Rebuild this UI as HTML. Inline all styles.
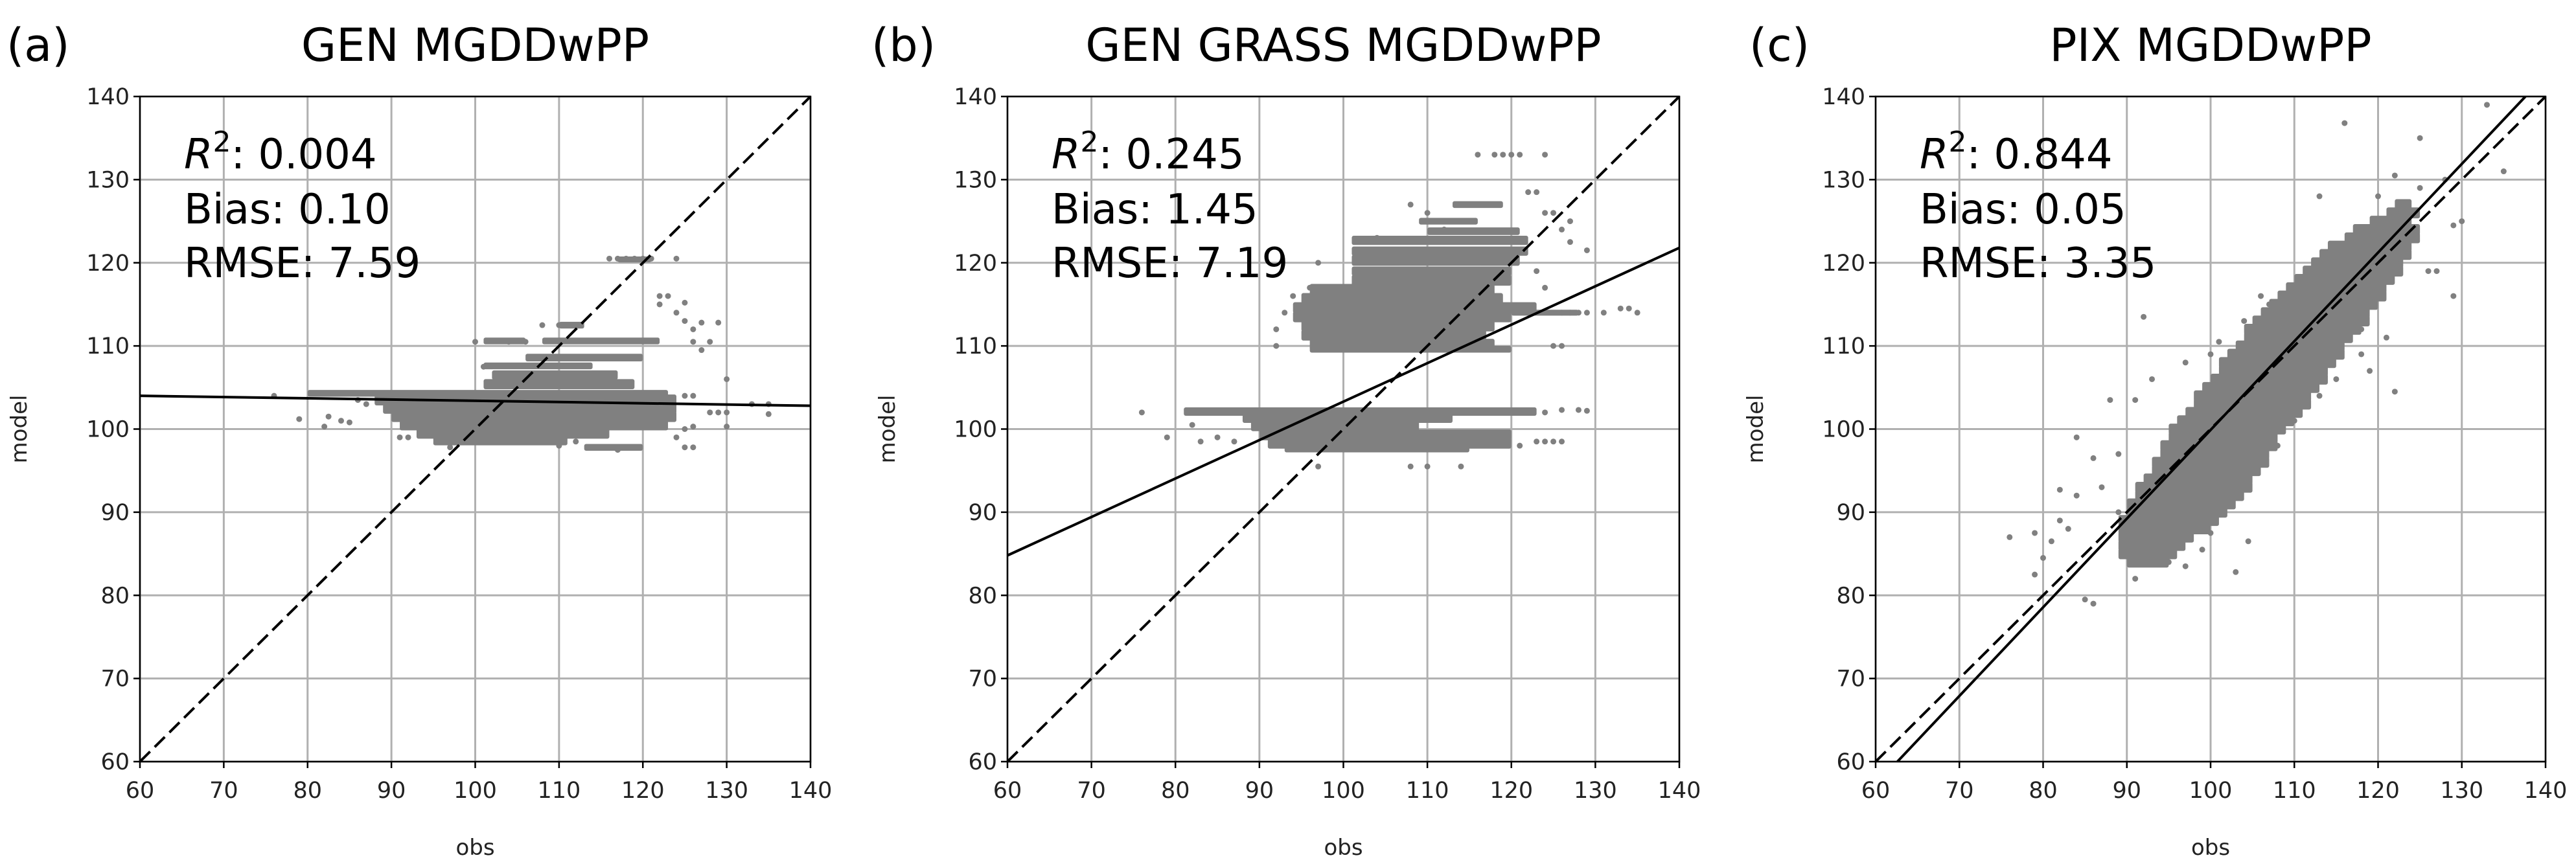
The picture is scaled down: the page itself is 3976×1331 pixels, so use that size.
<!DOCTYPE html>
<html><head><meta charset="utf-8"><style>
html,body{margin:0;padding:0;background:#fff;}
svg{display:block;font-family:"DejaVu Sans","Liberation Sans",sans-serif;}
</style></head><body>
<svg id="fig" width="3976" height="1331" viewBox="0 0 3976 1331" xmlns="http://www.w3.org/2000/svg"></svg>
<script>
// ---------- data ----------
const ticks = [60,70,80,90,100,110,120,130,140];
const panelLetters = ["(a)","(b)","(c)"];
const panelTitles = ["GEN MGDDwPP","GEN GRASS MGDDwPP","PIX MGDDwPP"];
const r2Values = ["0.004","0.245","0.844"];
const biasValues = ["0.10","1.45","0.05"];
const rmseValues = ["7.59","7.19","3.35"];
// regression line endpoints [x0,y0,x1,y1]
const fitA = [60,104.0,140,102.8];
const fitB = [60,84.8,140,121.8];
const fitC = [62.6,60,137.6,140];
// dense strips [y, xStart, xEnd, thickness]
const stripsA = [
 [104.3,80,123,0.5],[103.5,88,124,1],[102.5,89,124,1],[101.5,90,124,1],[100.5,91,123,1],
 [99.5,93,116,1],[98.6,95,111,0.8],[97.8,113,120,0.5],[105.4,101,119,0.9],[106.5,102,117,0.8],
 [107.6,101,114,0.5],[108.6,106,120,0.6],[110.6,101,106,0.5],[110.6,108,122,0.5],[112.5,110,113,0.5],[120.4,117,121,0.4]];
const stripsB = [
 [102.1,81,123,0.7],[101.4,88,113,1],[100.4,89,109,1],[99.3,90,120,1],[98.3,91,120,1],[97.6,93,115,0.5],
 [110.2,96,118,1],[111.3,95,117,1],[112.4,95,118,1],[113.5,94,120,1],[114.6,94,123,1],[115.7,95,119,1],
 [116.8,96,118,1],[117.9,101,120,1],[119.0,101,120,0.8],[120.3,101,121,1],[121.4,101,122,0.8],[122.7,101,122,0.8],
 [123.8,110,121,0.6],[125.0,109,116,0.5],[127.0,113,119,0.5],[109.6,96,120,0.5],[114.0,120,128,0.4]];
const stripsC = [
 [84,90,95,1],[85,89,96,1],[86,89,97,1],[87,89,98,1],[88,89,100,1],[89,89,101,1],[90,90,102,1],[91,90,103,1],
 [92,91,104,1],[93,91,105,1],[94,92,105,1],[95,93,106,1],[96,93,107,1],[97,94,107,1],[98,94,108,1],[99,95,108,1],
 [100,95,109,1],[101,96,110,1],[102,97,111,1],[103,98,112,1],[104,98,112,1],[105,99,113,1],[106,100,114,1],
 [107,101,114,1],[108,101,115,1],[109,102,116,1],[110,103,116,1],[111,104,117,1],[112,104,118,1],[113,105,119,1],
 [114,106,119,1],[115,107,120,1],[116,108,121,1],[117,109,121,1],[118,110,122,1],[119,111,123,1],[120,112,123,1],
 [121,113,124,1],[122,114,124,1],[123,116,125,1],[124,117,125,1],[125,119,124,1],[126,121,125,1],[127,122,124,1]];
// scattered points [x,y]
const pointsA = [[76,104],[79,101.2],[82,100.3],[82.5,101.5],[84,101],[85,100.8],[86,103.5],[87,103],[91,99],[92,99],[97,97.8],[100,110.5],[101,107.5],[104,110.5],[106,110.5],[108,112.5],[110,112.5],[112,112.5],[116,120.5],[117,120.5],[118,120.5],[119,120.5],[120,120.5],[121,120.5],[124,120.5],[122,116],[123,116],[122,115],[124,114],[125,115.2],[125,113],[126,112],[126,110.5],[127,112.8],[128,110.5],[129,112.8],[127,109.5],[130,106],[125,104],[126,104],[128,102],[129,102],[130,102],[130,100.3],[133,103],[135,101.8],[135,103],[126,97.8],[125,97.8],[124,99],[125,100],[126,100.3],[117,97.5],[112,98.5],[110,98]];
const pointsB = [[76,102],[79,99],[82,100.5],[83,98.5],[85,99],[87,98.5],[97,95.5],[108,95.5],[110,95.5],[114,95.5],[120,102],[122,102],[124,102],[126,102.3],[128,102.3],[129,102.2],[121,98],[123,98.5],[124,98.5],[125,98.5],[126,98.5],[92,110],[92,112],[93,114],[94,116],[96,117],[97,120],[104,123],[108,127],[110,126],[112,124],[116,133],[118,133],[119,133],[120,133],[121,133],[124,133],[122,128.5],[123,128.5],[124,126],[125,126],[126,124],[127,125],[127,122.5],[129,121.5],[126,114],[127,114],[128,114],[129,114],[131,114],[133,114.5],[134,114.5],[135,114],[125,110],[126,110],[123,119],[124,117]];
const pointsC = [[76,87],[79,87.5],[79,82.5],[80,84.5],[81,86.5],[82,89],[82,92.7],[83,88],[84,99],[85,79.5],[86,79],[84,92],[86,96.5],[88,103.5],[89,97],[92,113.5],[91,82],[92,84],[95,84],[97,83.5],[99,85.5],[100,87.5],[103,82.8],[104.5,86.5],[97,108],[101,110.5],[113,128],[116,136.8],[125,135],[133,139],[135,131],[130,125],[129,124.5],[129,116],[127,119],[126,119],[122,104.5],[119,107],[118,109],[121,111],[117,114],[125,129],[128,130],[122,130.5],[120,128],[93,106],[91,103.5],[89,90],[87,93],[96,87],[98,89],[108,98],[110,101],[113,104],[115,106],[118,112],[112,117],[107,115],[104,113],[100,109],[106,116]];

// ---------- layout ----------
const NS="http://www.w3.org/2000/svg";
const svg=document.getElementById('fig');
const panels=[{left:216,right:1251,label:10,ylab:41,strips:stripsA,pts:pointsA,fit:fitA},
              {left:1555,right:2592,label:1345,ylab:1381,strips:stripsB,pts:pointsB,fit:fitB},
              {left:2895,right:3929,label:2700,ylab:2721,strips:stripsC,pts:pointsC,fit:fitC}];
const TOP=149,BOT=1176;
function mk(tag,attrs,parent){const e=document.createElementNS(NS,tag);for(const k in attrs)e.setAttribute(k,attrs[k]);(parent||svg).appendChild(e);return e;}

panels.forEach((p,i)=>{
  const sx=v=>p.left+(v-60)/80*(p.right-p.left);
  const sy=v=>BOT-(v-60)/80*(BOT-TOP);
  const g=mk('g',{});
  
  
  const clipId='clip'+i;
  const cp=mk('clipPath',{id:clipId},g);
  mk('rect',{x:p.left,y:TOP,width:p.right-p.left,height:BOT-TOP},cp);
  // grid
  ticks.forEach(t=>{
    const gv=mk('line',{x1:sx(t),x2:sx(t),y1:TOP,y2:BOT,stroke:'#b0b0b0','stroke-width':3},g);
    
    
    const gh=mk('line',{x1:p.left,x2:p.right,y1:sy(t),y2:sy(t),stroke:'#b0b0b0','stroke-width':3},g);
    
    
  });
  const data=mk('g',{'clip-path':'url(#'+clipId+')',fill:'#808080'},g);
  
  
  p.strips.forEach(s=>{
    const h=s[3]*(BOT-TOP)/80+4;
    const r=mk('rect',{x:sx(s[1]),y:sy(s[0])-h/2,width:sx(s[2])-sx(s[1]),height:h,rx:3},data);
    
    
  });
  p.pts.forEach(pt=>{
    const c=mk('circle',{cx:sx(pt[0]),cy:sy(pt[1]),r:4.5},data);
    
    
  });
  const lines=mk('g',{'clip-path':'url(#'+clipId+')'},g);
  const d=mk('line',{x1:sx(60),y1:sy(60),x2:sx(140),y2:sy(140),stroke:'#000','stroke-width':4,'stroke-dasharray':'22,10'},lines);
  
  
  const f=mk('line',{x1:sx(p.fit[0]),y1:sy(p.fit[1]),x2:sx(p.fit[2]),y2:sy(p.fit[3]),stroke:'#000','stroke-width':4},lines);
  
  
  // frame
  const fr=mk('rect',{x:p.left,y:TOP,width:p.right-p.left,height:BOT-TOP,fill:'none',stroke:'#000','stroke-width':2.5},g);
  
  
  // ticks
  ticks.forEach(t=>{
    mk('line',{x1:sx(t),x2:sx(t),y1:BOT,y2:BOT+10,stroke:'#000','stroke-width':2.5},g);
    mk('line',{x1:p.left-10,x2:p.left,y1:sy(t),y2:sy(t),stroke:'#000','stroke-width':2.5},g);
    const xt=mk('text',{x:sx(t),y:1232,'font-size':35,'text-anchor':'middle',fill:'#222'},g);
    xt.textContent=t;
    
    
    const yt=mk('text',{x:p.left-16,y:sy(t)+12,'font-size':35,'text-anchor':'end',fill:'#222'},g);
    yt.textContent=t;
    
    
  });
  const xl=mk('text',{x:(p.left+p.right)/2,y:1320,'font-size':34,'text-anchor':'middle',fill:'#222'},g);
  xl.textContent='obs';
  
  
  const yl=mk('text',{x:p.ylab,y:(TOP+BOT)/2,'font-size':34,'text-anchor':'middle',fill:'#222',transform:'rotate(-90 '+p.ylab+' '+(TOP+BOT)/2+')'},g);
  yl.textContent='model';
  
  
  const tt=mk('text',{x:(p.left+p.right)/2,y:94,'font-size':70,'text-anchor':'middle',fill:'#000'},g);
  tt.textContent=panelTitles[i];
  
  
  const lb=mk('text',{x:p.label,y:94,'font-size':70,fill:'#000'},g);
  lb.textContent=panelLetters[i];
  
  
  const tx=p.left+68;
  const r2=mk('text',{x:tx,y:260,'font-size':64,fill:'#000'},g);
  r2.innerHTML='<tspan font-style="italic">R</tspan><tspan dy="-26" font-size="44">2</tspan><tspan dy="26">: '+r2Values[i]+'</tspan>';
  
  
  const bi=mk('text',{x:tx,y:345,'font-size':64,fill:'#000'},g);
  bi.textContent='Bias: '+biasValues[i];
  
  
  const rm=mk('text',{x:tx,y:428,'font-size':64,fill:'#000'},g);
  rm.textContent='RMSE: '+rmseValues[i];
  
  
});
</script>
</body></html>
